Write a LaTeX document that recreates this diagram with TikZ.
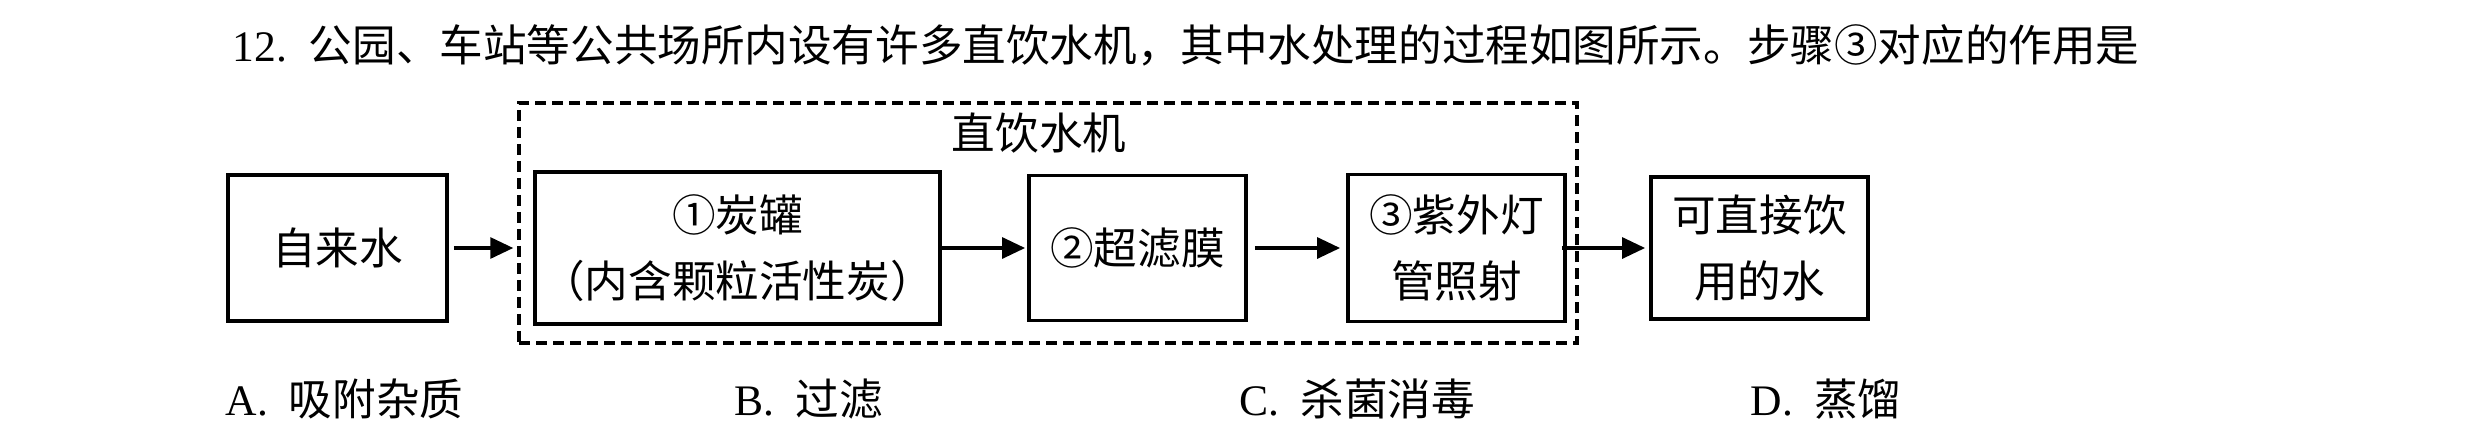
\documentclass[tikz,border=0pt]{standalone}
\usepackage{fontspec}
\setmainfont{Liberation Serif}
\newfontfamily\cjk{Noto Sans CJK SC}
\usetikzlibrary{arrows.meta, positioning, calc}

\newcommand\qsize{\fontsize{12.4pt}{18.8pt}\selectfont}

\begin{document}
\begin{tikzpicture}[
  % ---- styles ----
  stage/.style = {
    draw=black, line width=1.1pt,
    align=center,
    inner sep=0.5pt,
    minimum width=2.17cm,
    font=\cjk\qsize
  },
  machinebox/.style = {
    draw=black, line width=1pt,
    dash pattern=on 0.11cm off 0.06cm,
    inner sep=0pt
  },
  machinetitle/.style = {font=\cjk\qsize, inner sep=0pt},
  flow/.style = {-{Triangle[length=0.23cm, width=0.21cm]}, line width=0.9pt},
  qtext/.style = {anchor=west, inner sep=0pt, font=\qsize}
]
\useasboundingbox (0,0) rectangle (24.8,4.38);

% ============ QUESTION ============
\node[qtext] (question) at (2.32, 3.93)
  {12.\enspace{\cjk 公园、车站等公共场所内设有许多直饮水机，其中水处理的过程如图所示。步骤③对应的作用是}};

% ============ MACHINE ============
\node[machinebox, minimum width=10.58cm, minimum height=2.40cm] (machine) at (10.48, 2.15) {};
\node[machinetitle] (machinelabel) at (10.39, 3.05) {直饮水机};

% ============ STAGES ============

% --- tap water ---
\node[stage, minimum width=2.19cm, minimum height=1.46cm] (tap) at (3.375, 1.90) {自来水};

% --- carbon tank ---
\node[stage, minimum width=4.05cm, minimum height=1.52cm] (tank) at (7.375, 1.90) {
  ①炭罐\\
  （内含颗粒活性炭）
};

% --- ultrafiltration ---
\node[stage, minimum height=1.45cm] (membrane) at (11.375, 1.90) {②超滤膜};

% --- UV lamp ---
\node[stage, minimum height=1.47cm] (uv) at (14.565, 1.90) {
  ③紫外灯\\
  管照射
};

% --- drinking water ---
\node[stage, minimum height=1.42cm] (water) at (17.595, 1.90) {
  可直接饮\\
  用的水
};

% ============ FLOW ============
\draw[flow, shorten <=0.05cm, shorten >=0.04cm] (tap.east) -- (tap.east -| machine.west);
\draw[flow, shorten >=0.02cm] (tank.east) -- (membrane.west);
\draw[flow, shorten <=0.07cm, shorten >=0.06cm] (membrane.east) -- (uv.west);
\draw[flow, shorten <=-0.05cm, shorten >=0.04cm] (uv.east) -- (water.west);

% ============ OPTIONS ============
\node[qtext] (optA) at (2.25, 0.39) {A.\hspace{0.48em}{\cjk 吸附杂质}};
\node[qtext] (optB) at (7.34, 0.39) {B.\hspace{0.48em}{\cjk 过滤}};
\node[qtext] (optC) at (12.39, 0.39) {C.\hspace{0.48em}{\cjk 杀菌消毒}};
\node[qtext] (optD) at (17.50, 0.39) {D.\hspace{0.48em}{\cjk 蒸馏}};

\end{tikzpicture}
\end{document}
